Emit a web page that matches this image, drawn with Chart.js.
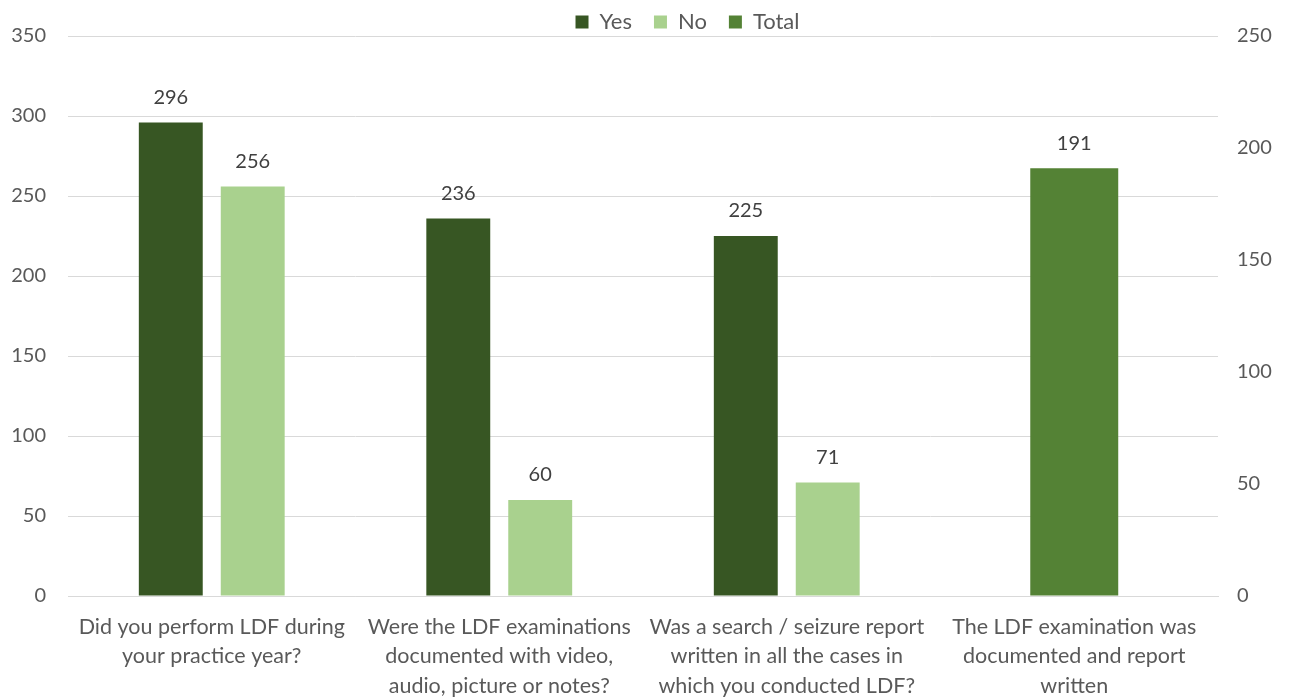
<!DOCTYPE html>
<html>
<head>
<meta charset="utf-8">
<script src="https://cdn.jsdelivr.net/npm/chart.js@4"></script>
<style>
  html, body { margin: 0; padding: 0; background: #fff; }
  #wrap { width: 1295px; height: 698px; position: relative; }
</style>
</head>
<body>
<div id="wrap"><canvas id="myChart"></canvas></div>
<script>
const questionLabels = [
    ['Did you perform LDF during', 'your practice year?'],
    ['Were the LDF examinations', 'documented with video,', 'audio, picture or notes?'],
    ['Was a search / seizure report', 'written in all the cases in', 'which you conducted LDF?'],
    ['The LDF examination was', 'documented and report', 'written']
];
const yesData = [296, 236, 225, null];
const noData = [256, 60, 71, null];
const totalData = [null, null, null, 191];

const leftTicks = [0, 50, 100, 150, 200, 250, 300, 350];
const rightTicks = [0, 50, 100, 150, 200, 250];

const fontFamily = 'Lato, "Open Sans", sans-serif';

// Werte über den Balken
const valueLabels = {
    id: 'valueLabels',
    afterDatasetsDraw(chart) {
        const c = chart.ctx;
        c.save();
        c.font = '20px ' + fontFamily;
        c.fillStyle = '#404040';
        c.textAlign = 'center';
        c.textBaseline = 'middle';
        chart.data.datasets.forEach((ds, i) => {
            const meta = chart.getDatasetMeta(i);
            meta.data.forEach((bar, j) => {
                if (ds.data[j] == null) return;
                c.fillText(String(ds.data[j]), bar.x, bar.y - 25);
            });
        });
        c.restore();
    }
};

// feste Höhe der Legende, Position etwas verschoben
const legendHeight = {
    id: 'legendHeight',
    beforeInit(chart) {
        const lg = chart.legend;
        const origFit = lg.fit;
        lg.fit = function () {
            origFit.call(this);
            this.height = 36;
        };
        const origDraw = lg.draw;
        lg.draw = function (area) {
            const t = this.top, l = this.left, r = this.right;
            this.top = t - 11;
            this.left = l + 40;
            this.right = r + 40;
            origDraw.call(this, area);
            this.top = t;
            this.left = l;
            this.right = r;
        };
    }
};

const ctx = document.getElementById('myChart').getContext('2d');
const myChart = new Chart(ctx, {
    type: 'bar',
    data: {
        labels: questionLabels,
        datasets: [
            { label: 'Yes', data: yesData, backgroundColor: '#375623', yAxisID: 'y',
              categoryPercentage: 0.57, barPercentage: 0.78 },
            { label: 'No', data: noData, backgroundColor: '#A9D18E', yAxisID: 'y',
              categoryPercentage: 0.57, barPercentage: 0.78 },
            { label: 'Total', data: totalData, backgroundColor: '#548235', yAxisID: 'y2',
              grouped: false, categoryPercentage: 0.306, barPercentage: 1 }
        ]
    },
    options: {
        responsive: true,
        maintainAspectRatio: false,
        animation: false,
        plugins: {
            tooltip: { enabled: false },
            legend: {
                position: 'top',
                labels: {
                    boxWidth: 13, boxHeight: 13, padding: 22,
                    color: '#595959',
                    font: { family: fontFamily, size: 22 }
                }
            }
        },
        scales: {
            x: {
                grid: { display: false, drawTicks: false },
                border: { color: '#d9d9d9' },
                ticks: {
                    color: '#595959', padding: 17, maxRotation: 0, autoSkip: false,
                    font: { family: fontFamily, size: 21.5, lineHeight: 1.35 }
                },
                afterFit(s) { s.height = 102; }
            },
            y: {
                position: 'left',
                min: 0, max: 350,
                afterBuildTicks(s) { s.ticks = leftTicks.map(v => ({ value: v })); },
                grid: { color: '#d9d9d9', drawTicks: false },
                border: { display: false },
                ticks: {
                    color: '#595959', padding: 22,
                    font: { family: fontFamily, size: 20 }
                },
                afterFit(s) { s.width = 68; }
            },
            y2: {
                position: 'right',
                min: 0, max: 250,
                afterBuildTicks(s) { s.ticks = rightTicks.map(v => ({ value: v })); },
                grid: { drawOnChartArea: false, drawTicks: false },
                border: { display: false },
                ticks: {
                    color: '#595959', padding: 19,
                    font: { family: fontFamily, size: 20 }
                },
                afterFit(s) { s.width = 77; }
            }
        }
    },
    plugins: [valueLabels, legendHeight]
});
</script>
</body>
</html>
